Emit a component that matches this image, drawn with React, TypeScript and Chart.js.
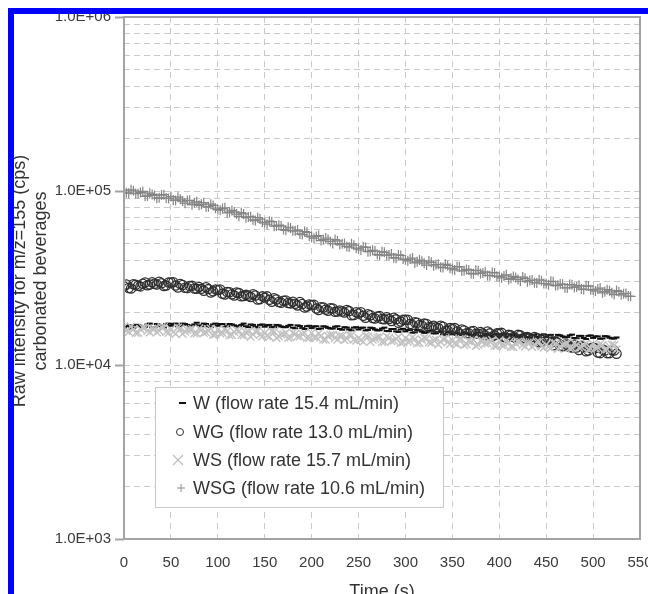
import React, { useEffect, useRef } from "react";
import { Chart, registerables } from "chart.js";

Chart.register(...registerables);

// Time (s) of the main readings
const time = [
  0, 5, 10, 15, 20, 25, 30, 35, 40, 45, 50, 55, 60, 65, 70, 75, 80, 85, 90, 95,
  100, 105, 110, 115, 120, 125, 130, 135, 140, 145, 150, 155, 160, 165, 170, 175, 180, 185, 190, 195,
  200, 205, 210, 215, 220, 225, 230, 235, 240, 245, 250, 255, 260, 265, 270, 275, 280, 285, 290, 295,
  300, 305, 310, 315, 320, 325, 330, 335, 340, 345, 350, 355, 360, 365, 370, 375, 380, 385, 390, 395,
  400, 405, 410, 415, 420, 425, 430, 435, 440, 445, 450, 455, 460, 465, 470, 475, 480, 485, 490, 495,
  500, 505, 510, 515, 520, 525, 530, 535, 540,
];

// Time (s) of the in-between readings
const timeMid = [
  2.5, 7.5, 12.5, 17.5, 22.5, 27.5, 32.5, 37.5, 42.5, 47.5, 52.5, 57.5, 62.5, 67.5, 72.5, 77.5, 82.5, 87.5, 92.5, 97.5,
  102.5, 107.5, 112.5, 117.5, 122.5, 127.5, 132.5, 137.5, 142.5, 147.5, 152.5, 157.5, 162.5, 167.5, 172.5, 177.5, 182.5, 187.5, 192.5, 197.5,
  202.5, 207.5, 212.5, 217.5, 222.5, 227.5, 232.5, 237.5, 242.5, 247.5, 252.5, 257.5, 262.5, 267.5, 272.5, 277.5, 282.5, 287.5, 292.5, 297.5,
  302.5, 307.5, 312.5, 317.5, 322.5, 327.5, 332.5, 337.5, 342.5, 347.5, 352.5, 357.5, 362.5, 367.5, 372.5, 377.5, 382.5, 387.5, 392.5, 397.5,
  402.5, 407.5, 412.5, 417.5, 422.5, 427.5, 432.5, 437.5, 442.5, 447.5, 452.5, 457.5, 462.5, 467.5, 472.5, 477.5, 482.5, 487.5, 492.5, 497.5,
  502.5, 507.5, 512.5, 517.5, 522.5, 527.5, 532.5, 537.5,
];

const wValues = [
  16300, 16900, 16400, 17000, 16500, 17100, 16500, 17200, 16700, 17200, 16800,
  17300, 16800, 17200, 16700, 17100, 16900, 17300, 16700, 17100, 16800,
  17200, 16700, 17100, 16600, 17000, 16700, 17100, 16600, 17000, 16600,
  17000, 16500, 16900, 16500, 16800, 16400, 16900, 16300, 16700, 16300,
  16700, 16200, 16600, 16200, 16600, 16100, 16500, 16000, 16400, 16000,
  16400, 15900, 16300, 15800, 16200, 15700, 16100, 15600, 16000, 15600,
  15900, 15400, 15800, 15300, 15700, 15200, 15500, 15000, 15400, 15000,
  15300, 14900, 15300, 14800, 15200, 14700, 15100, 14700, 15000, 14600,
  15000, 14600, 14900, 14500, 14900, 14500, 14900, 14500, 14900, 14500,
  14900, 14400, 14800, 14400, 14800, 14300, 14700, 14300, 14700, 14300,
  14600, 14200, 14600, 14200, 14400,
];
const wMid = [
  16700, 16200, 17000, 16700, 16600, 17300, 16500, 17000, 16400, 17300,
  17200, 16700, 17300, 17000, 16800, 17500, 16700, 17200, 16500, 17300,
  17200, 16600, 17200, 16900, 16700, 17300, 16500, 17000, 16400, 17100,
  16950, 16500, 17000, 16650, 16500, 17000, 16250, 16750, 16100, 16800,
  16650, 16100, 16700, 16350, 16200, 16700, 15950, 16400, 15800, 16500,
  16350, 15800, 16400, 16000, 15850, 16400, 15650, 16100, 15500, 16150,
  15900, 15350, 15900, 15550, 15400, 15800, 15200, 15500, 14950, 15550,
  15350, 14850, 15300, 15000, 14850, 15350, 14700, 15000, 14500, 15100,
  14950, 14450, 15000, 14750, 14600, 15200, 14400, 14900, 14300, 15000,
  14800, 14350, 14900, 14600, 14450, 14950, 14250, 14700, 14100, 14800,
  14600, 14150, 14650, 14350, 14200,
];

const wgValues = [
  28300, 27700, 29100, 28500, 29300, 28700,
  29900, 29000, 29500, 28600, 29800,
  28600, 29200, 27800, 28400, 27500,
  28100, 26700, 27300, 26500, 27000,
  25700, 26300, 25500, 26100, 24800,
  25300, 24600, 25100, 23900, 24400,
  23700, 24200, 23000, 23400, 22700,
  23100, 22000, 22400, 21700, 22100,
  21100, 21500, 20800, 21200, 20200,
  20600, 20000, 20400, 19400, 19800,
  19200, 19600, 18600, 19000, 18400,
  18800, 17900, 18300, 17800, 18200,
  17200, 17600, 17000, 17300, 16500,
  16800, 16300, 16600, 15800, 16100,
  15600, 16000, 15200, 15600, 15100,
  15500, 14800, 15200, 14800, 15200,
  14500, 14900, 14500, 14900, 14200,
  14500, 14000, 14300, 13600, 13800,
  13400, 13600, 12900, 13100, 12700,
  13100, 12200, 12700, 12100, 12600,
  11800, 12300, 11700, 12200, 11600,
];
const wgMid = [
  29000, 27500, 28900, 28300, 29800, 29000, 29300, 30100, 28400, 29800,
  29900, 27900, 28800, 27700, 28500, 27400, 27400, 28000, 26100, 27200,
  27200, 25400, 26200, 25100, 25900, 24900, 25000, 25500, 23800, 24800,
  24800, 23100, 23800, 22800, 23500, 22600, 22500, 23000, 21400, 22300,
  22200, 20700, 21400, 20500, 21100, 20300, 20300, 20700, 19300, 20100,
  20100, 18700, 19300, 18500, 19100, 18300, 18400, 18700, 17500, 18200,
  18200, 17000, 17500, 16800, 17200, 16500, 16500, 16800, 15700, 16300,
  16300, 15200, 15800, 15200, 15700, 15100, 15200, 15600, 14600, 15200,
  15300, 14300, 14800, 14300, 14800, 14300, 14300, 14500, 13500, 14100,
  14000, 13000, 13400, 12800, 13100, 12600, 12600, 12900, 12000, 12500,
  12500, 11700, 12100, 11700, 12100,
];

const wsValues = [
  16600, 15500, 16100, 15300, 16400, 15700, 16200, 15400, 16500, 15500, 16000,
  15100, 16200, 15600, 16000, 15200, 16200, 15300, 15700, 14900, 16000,
  15300, 15700, 14900, 15900, 14900, 15400, 14500, 15600, 14900, 15300,
  14500, 15500, 14600, 15000, 14300, 15300, 14600, 15100, 14300, 15300,
  14400, 14700, 14000, 14900, 14300, 14700, 13900, 14900, 14000, 14300,
  13600, 14600, 14000, 14400, 13600, 14600, 13700, 14100, 13400, 14300,
  13700, 14100, 13400, 14300, 13500, 13900, 13100, 14100, 13500, 13900,
  13200, 14100, 13200, 13600, 12900, 13800, 13300, 13600, 12900, 13800,
  13000, 13400, 12700, 13600, 13000, 13400, 12700, 13600, 12800, 13100,
  12500, 13300, 12800, 13200, 12500, 13400, 12600, 13000, 12300, 13200,
  12600, 13000, 12300, 13100, 12300,
];
const wsMid = [
  15700, 16600, 15300, 16100, 16400, 15400, 16200, 15700, 16500, 15300,
  15500, 16400, 15100, 15900, 16100, 15200, 15900, 15400, 16200, 15000,
  15200, 16000, 14800, 15500, 15700, 14800, 15500, 15000, 15700, 14600,
  14700, 15600, 14300, 15000, 15300, 14400, 15100, 14600, 15300, 14300,
  14400, 15200, 14000, 14700, 14900, 14000, 14700, 14200, 14800, 13800,
  13900, 14700, 13600, 14200, 14500, 13600, 14300, 13800, 14500, 13500,
  13600, 14400, 13300, 14000, 14200, 13400, 14000, 13600, 14200, 13200,
  13300, 14100, 13000, 13700, 13900, 13100, 13700, 13300, 13900, 12900,
  13000, 13800, 12700, 13300, 13600, 12800, 13400, 13000, 13600, 12600,
  12700, 13500, 12400, 13100, 13300, 12500, 13000, 12700, 13300, 12400,
  12500, 13200, 12200, 12800, 13000,
];

const wsgValues = [
  101000, 97100, 100200, 96400, 99400, 93700, 95600, 91000, 94800, 91100, 93000,
  88300, 89800, 85100, 88400, 85500, 82700, 85700, 81300, 82600, 78200,
  79200, 74800, 77300, 73700, 75200, 70300, 71100, 67600, 69000, 65600,
  67100, 62800, 63600, 60000, 61900, 59000, 59600, 56200, 57900, 54500,
  54800, 51900, 53700, 51300, 52600, 49200, 49900, 47600, 48800, 46500,
  47800, 44800, 45600, 43100, 44700, 42800, 43400, 41100, 42600, 40300,
  40600, 38600, 40100, 38500, 39600, 37200, 37900, 36300, 37300, 35700,
  36800, 34700, 35400, 33600, 35000, 33600, 34300, 32600, 33800, 32200,
  32500, 31000, 32300, 31000, 32000, 30100, 30800, 29600, 30500, 29300,
  30300, 28600, 29200, 27800, 29000, 27900, 28600, 27200, 28400, 27000,
  27300, 26000, 27100, 26000, 26800, 25300, 25800, 24800,
];
const wsgMid = [
  97600, 101600, 96800, 97900, 93200, 97100, 94300, 91500, 95200, 90700,
  88800, 92200, 87500, 88100, 83500, 86600, 83800, 81000, 84000, 79600,
  77500, 80100, 75700, 75800, 71500, 73800, 71000, 68300, 70400, 66300,
  64400, 66600, 62900, 63000, 59400, 61300, 59000, 56700, 58500, 55100,
  53600, 55500, 52500, 52800, 49900, 51700, 49800, 48000, 49700, 46900,
  45800, 47400, 45000, 45200, 42800, 44400, 42900, 41400, 42900, 40600,
  39700, 41200, 39200, 39500, 37500, 38900, 37700, 36500, 37900, 36000,
  35200, 36600, 34800, 35200, 33400, 34800, 33800, 32700, 34000, 32400,
  31700, 33000, 31500, 31800, 30300, 31500, 30600, 29700, 30900, 29400,
  28900, 30100, 28700, 29100, 27700, 28900, 28100, 27300, 28500, 27100,
  26600, 27700, 26400, 26700, 25400, 26400, 25700, 24900,
];

const xTickLabels = ["0", "50", "100", "150", "200", "250", "300", "350", "400", "450", "500", "550"];
const yMajorTicks = [1000, 10000, 100000, 1000000];
const yTickLabels = ["1.0E+03", "1.0E+04", "1.0E+05", "1.0E+06"];
const yMinorMultipliers = [2, 3, 4, 5, 6, 7, 8, 9];
const legendLabels = [
  "W (flow rate 15.4 mL/min)",
  "WG (flow rate 13.0 mL/min)",
  "WS (flow rate 15.7 mL/min)",
  "WSG (flow rate 10.6 mL/min)",
];
const yTitleLines = ["Raw intensity for m/z=155 (cps)", "carbonated beverages"];
const xTitle = "Time (s)";

const FONT = '"Liberation Sans", Arial, Helvetica, sans-serif';

const toPoints = (main: number[], mid: number[]) => {
  const pts: { x: number; y: number }[] = [];
  main.forEach((v, i) => {
    pts.push({ x: time[i], y: v });
    if (i < mid.length) pts.push({ x: timeMid[i], y: mid[i] });
  });
  return pts;
};

const yGridValues: number[] = [];
yMajorTicks.forEach((m, i) => {
  yGridValues.push(m);
  if (i < yMajorTicks.length - 1) yMinorMultipliers.forEach((k) => yGridValues.push(m * k));
});

const decorPlugin = {
  id: "decor",
  afterDraw(chart: any) {
    const { ctx, chartArea } = chart;
    ctx.save();
    ctx.strokeStyle = "#a3a3a3";
    ctx.lineWidth = 2;
    ctx.setLineDash([]);
    ctx.strokeRect(chartArea.left, chartArea.top, chartArea.right - chartArea.left, chartArea.bottom - chartArea.top);

    ctx.fillStyle = "#333";
    ctx.font = `18px ${FONT}`;
    ctx.textAlign = "center";
    ctx.textBaseline = "middle";
    const yc = 281;
    [20, 41].forEach((x, i) => {
      ctx.save();
      ctx.translate(x, yc);
      ctx.rotate(-Math.PI / 2);
      ctx.fillText(yTitleLines[i], 0, 0);
      ctx.restore();
    });

    ctx.textBaseline = "alphabetic";
    ctx.fillText(xTitle, (chartArea.left + chartArea.right) / 2, 597);

    const lx = 155, ly = 387, lw = 288, lh = 120;
    ctx.fillStyle = "#fff";
    ctx.fillRect(lx, ly, lw, lh);
    ctx.strokeStyle = "#c8c8c8";
    ctx.lineWidth = 1;
    ctx.strokeRect(lx + 0.5, ly + 0.5, lw, lh);
    const rows = [403, 432, 460, 488];
    ctx.strokeStyle = "#111";
    ctx.lineWidth = 2;
    ctx.beginPath();
    ctx.moveTo(179, rows[0]);
    ctx.lineTo(186, rows[0]);
    ctx.stroke();
    ctx.strokeStyle = "#333";
    ctx.lineWidth = 1;
    ctx.beginPath();
    ctx.arc(180, rows[1], 3.5, 0, Math.PI * 2);
    ctx.stroke();
    ctx.strokeStyle = "#bdbdbd";
    ctx.lineWidth = 1.2;
    ctx.beginPath();
    ctx.moveTo(173, rows[2] - 5);
    ctx.lineTo(183, rows[2] + 5);
    ctx.moveTo(183, rows[2] - 5);
    ctx.lineTo(173, rows[2] + 5);
    ctx.stroke();
    ctx.strokeStyle = "#8c8c8c";
    ctx.lineWidth = 1;
    ctx.beginPath();
    ctx.moveTo(177, rows[3]);
    ctx.lineTo(185, rows[3]);
    ctx.moveTo(181, rows[3] - 4);
    ctx.lineTo(181, rows[3] + 4);
    ctx.stroke();

    ctx.fillStyle = "#333";
    ctx.font = `18px ${FONT}`;
    ctx.textAlign = "left";
    ctx.textBaseline = "middle";
    legendLabels.forEach((t, i) => ctx.fillText(t, 193, rows[i] + 1));
    ctx.restore();
  },
};

export default function App() {
  const canvasRef = useRef<HTMLCanvasElement | null>(null);

  useEffect(() => {
    const canvas = canvasRef.current;
    if (!canvas) return;
    const chart = new Chart(canvas, {
      type: "scatter",
      data: {
        datasets: [
          {
            label: legendLabels[0],
            data: toPoints(wValues, wMid),
            order: 4,
            pointStyle: "line",
            pointRadius: 3,
            borderColor: "#111",
            backgroundColor: "#111",
            pointBorderWidth: 2,
            showLine: false,
          },
          {
            label: legendLabels[1],
            data: toPoints(wgValues, wgMid),
            order: 3,
            pointStyle: "circle",
            pointRadius: 4.6,
            borderColor: "#2e2e2e",
            backgroundColor: "rgba(0,0,0,0)",
            pointBorderWidth: 1.3,
            showLine: false,
          },
          {
            label: legendLabels[2],
            data: toPoints(wsValues, wsMid),
            order: 2,
            pointStyle: "crossRot",
            pointRadius: 5.5,
            borderColor: "#c2c2c2",
            backgroundColor: "#c2c2c2",
            pointBorderWidth: 1.4,
            showLine: false,
          },
          {
            label: legendLabels[3],
            data: toPoints(wsgValues, wsgMid),
            order: 1,
            pointStyle: "cross",
            pointRadius: 5,
            borderColor: "#858585",
            backgroundColor: "#858585",
            pointBorderWidth: 1.2,
            showLine: false,
          },
        ],
      },
      options: {
        animation: false,
        responsive: false,
        devicePixelRatio: 1,
        layout: { padding: { left: 0, top: 17, right: 8, bottom: 0 } },
        plugins: { legend: { display: false }, tooltip: { enabled: false } },
        scales: {
          x: {
            type: "linear",
            position: "bottom",
            min: 0,
            max: 550,
            afterFit: (s: any) => {
              s.height = 55;
              s.paddingLeft = 0;
              s.paddingRight = 0;
            },
            ticks: {
              stepSize: 50,
              autoSkip: false,
              maxRotation: 0,
              padding: 15,
              color: "#3a3a3a",
              font: { family: FONT, size: 15 },
              callback: (_v: any, i: number) => xTickLabels[i],
            },
            grid: { color: "#c9c9c9", lineWidth: 1, drawTicks: false },
            border: { display: false, dash: [6, 5] },
          },
          y: {
            type: "logarithmic",
            min: 1000,
            max: 1000000,
            afterBuildTicks: (s: any) => {
              s.ticks = yGridValues.map((v) => ({ value: v }));
            },
            afterFit: (s: any) => {
              s.width = 124;
              s.paddingTop = 0;
              s.paddingBottom = 0;
            },
            ticks: {
              autoSkip: false,
              padding: 4,
              color: "#3a3a3a",
              font: { family: FONT, size: 15 },
              callback: (v: any) => {
                const i = yMajorTicks.indexOf(Number(v));
                return i >= 0 ? yTickLabels[i] : "";
              },
            },
            grid: {
              color: "#c9c9c9",
              lineWidth: 1,
              drawTicks: true,
              tickLength: 9,
              tickWidth: 2,
              tickColor: (c: any) =>
                c.tick && yMajorTicks.includes(c.tick.value) ? "#a3a3a3" : "rgba(0,0,0,0)",
            },
            border: { display: false, dash: [6, 4] },
          },
        },
      },
      plugins: [decorPlugin],
    } as any);
    return () => chart.destroy();
  }, []);

  return (
    <div style={{ position: "absolute", left: 0, top: 0, width: 648, height: 594, background: "#fff" }}>
      <div
        style={{
          position: "absolute",
          left: 14,
          top: 14,
          width: 634,
          height: 580,
          overflow: "hidden",
        }}
      >
        <canvas
          ref={canvasRef}
          width={648}
          height={594}
          style={{ position: "absolute", left: -14, top: -14, width: 648, height: 594 }}
        />
      </div>
      <div
        style={{
          position: "absolute",
          left: 8,
          top: 8,
          width: 640,
          height: 586,
          boxSizing: "border-box",
          borderTop: "6px solid #0000ff",
          borderLeft: "6px solid #0000ff",
          pointerEvents: "none",
        }}
      />
    </div>
  );
}
